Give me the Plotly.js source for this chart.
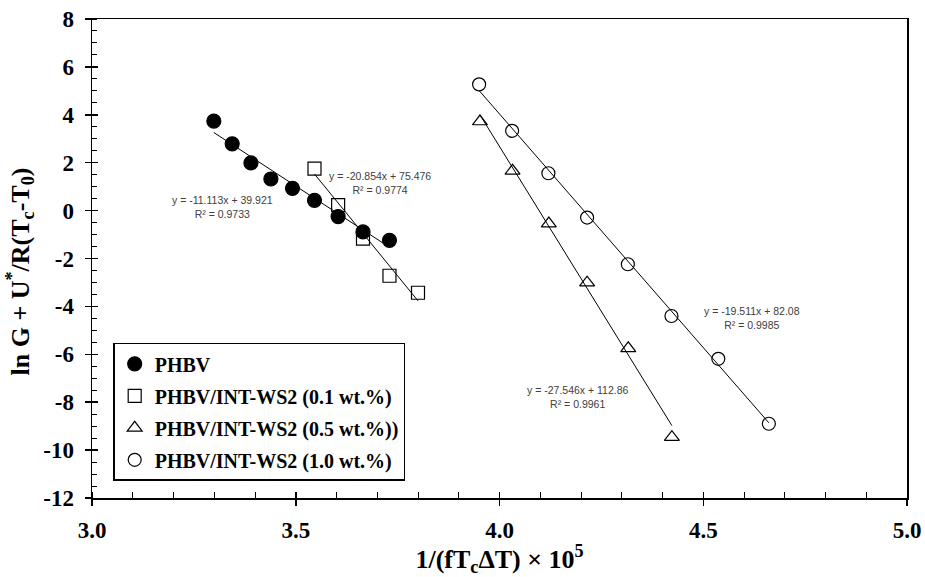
<!DOCTYPE html>
<html>
<head>
<meta charset="utf-8">
<script src="https://cdn.plot.ly/plotly-3.0.1.min.js"></script>
<style>
  html, body { margin: 0; padding: 0; background: #ffffff; }
  #chart { width: 925px; height: 577px; }
</style>
</head>
<body>
<div id="chart"></div>
<script>
// ---- data ----
const seriesNames = ['PHBV', 'PHBV/INT-WS2 (0.1 wt.%)', 'PHBV/INT-WS2 (0.5 wt.%))', 'PHBV/INT-WS2 (1.0 wt.%)'];

const phbvX = [3.299, 3.344, 3.390, 3.439, 3.492, 3.546, 3.604, 3.665, 3.730];
const phbvY = [3.74, 2.79, 1.99, 1.32, 0.93, 0.43, -0.25, -0.89, -1.24];

const ws01X = [3.546, 3.604, 3.665, 3.730, 3.800];
const ws01Y = [1.75, 0.23, -1.17, -2.72, -3.43];

const ws05X = [3.952, 4.032, 4.121, 4.215, 4.316, 4.423];
const ws05Y = [3.72, 1.66, -0.54, -3.01, -5.75, -9.46];

const ws10X = [3.950, 4.031, 4.120, 4.215, 4.315, 4.422, 4.537, 4.661];
const ws10Y = [5.27, 3.33, 1.56, -0.29, -2.24, -4.40, -6.19, -8.90];

// linear trendline coefficients as printed on the chart
const slopes = [-11.113, -20.854, -27.546, -19.511];
const intercepts = [39.921, 75.476, 112.86, 82.08];
const r2Values = ['0.9733', '0.9774', '0.9961', '0.9985'];
const eqLabels = ['y = -11.113x + 39.921', 'y = -20.854x + 75.476', 'y = -27.546x + 112.86', 'y = -19.511x + 82.08'];

// axis ticks
const xTickVals = [3.0, 3.5, 4.0, 4.5, 5.0];
const xTickText = ['3.0', '3.5', '4.0', '4.5', '5.0'];
const yTickVals = [-12, -10, -8, -6, -4, -2, 0, 2, 4, 6, 8];
const yTickText = ['-12', '-10', '-8', '-6', '-4', '-2', '0', '2', '4', '6', '8'];

// ---- build traces ----
const xs = [phbvX, ws01X, ws05X, ws10X];
const ys = [phbvY, ws01Y, ws05Y, ws10Y];
const symbols = ['circle', 'square-open', 'triangle-up-open', 'circle-open'];
const sizes = [14, 13, 13, 13];
const serif = '"Liberation Serif", "Times New Roman", serif';
const sans = '"Liberation Sans", Arial, sans-serif';
const bold = s => '<b>' + s + '</b>';

const traces = [];
// trendlines first (drawn under markers)
for (let i = 0; i < 4; i++) {
  const x0 = Math.min(...xs[i]);
  const x1 = Math.max(...xs[i]);
  traces.push({
    x: [x0, x1],
    y: [slopes[i] * x0 + intercepts[i], slopes[i] * x1 + intercepts[i]],
    mode: 'lines',
    line: { color: '#000000', width: 1 },
    showlegend: false,
    hoverinfo: 'skip'
  });
}
for (let i = 0; i < 4; i++) {
  traces.push({
    x: xs[i],
    y: ys[i],
    name: bold(seriesNames[i]),
    legendgroup: 'g' + i,
    mode: 'markers',
    marker: {
      symbol: symbols[i],
      size: sizes[i],
      color: '#000000',
      line: { color: '#000000', width: 1.2 }
    }
  });
}
// invisible trace for the overlay axes (inner half of the crossing major ticks)
traces.push({ x: [null], y: [null], xaxis: 'x2', yaxis: 'y2', showlegend: false, hoverinfo: 'skip', mode: 'markers' });

// trendline labels
const annPos = [[3.321, 0.15], [3.707, 1.17], [4.193, -7.78], [4.620, -4.48]];
const annotations = annPos.map((p, i) => ({
  x: p[0], y: p[1], xref: 'x', yref: 'y',
  text: eqLabels[i] + '<br>R² = ' + r2Values[i],
  showarrow: false,
  align: 'center',
  font: { family: sans, size: 10.5, color: '#404040' }
}));

const layout = {
  width: 925,
  height: 577,
  margin: { l: 92, r: 18, t: 19, b: 79 },
  paper_bgcolor: '#ffffff',
  plot_bgcolor: '#ffffff',
  showlegend: true,
  legend: {
    x: 0.026, y: 0.324, xanchor: 'left', yanchor: 'top',
    bgcolor: '#ffffff',
    bordercolor: '#000000',
    borderwidth: 1.5,
    traceorder: 'grouped',
    tracegroupgap: 3,
    itemwidth: 30,
    font: { family: serif, size: 20, color: '#000000' }
  },
  xaxis: {
    range: [3, 5],
    tickmode: 'array', tickvals: xTickVals, ticktext: xTickText.map(bold),
    ticks: 'outside', ticklen: 6, tickwidth: 1.5, tickcolor: '#000000',
    ticklabelstandoff: 5,
    showline: true, linewidth: 1.5, linecolor: '#000000', mirror: true,
    showgrid: false, zeroline: false,
    minor: { dtick: 0.1, ticks: 'inside', ticklen: 6, tickwidth: 1, tickcolor: '#000000', showgrid: false },
    tickfont: { family: serif, size: 23, color: '#000000' },
    title: {
      text: bold('1/(fT<sub>c</sub>ΔT) × 10<sup>5</sup>'),
      font: { family: serif, size: 26, color: '#000000' },
      standoff: 6
    }
  },
  yaxis: {
    range: [-12, 8],
    tickmode: 'array', tickvals: yTickVals, ticktext: yTickText.map(bold),
    ticks: 'outside', ticklen: 6, tickwidth: 1.5, tickcolor: '#000000',
    ticklabelstandoff: 6,
    showline: true, linewidth: 1.5, linecolor: '#000000', mirror: true,
    showgrid: false, zeroline: false,
    minor: { dtick: 0.5, ticks: 'inside', ticklen: 5, tickwidth: 1, tickcolor: '#000000', showgrid: false },
    tickfont: { family: serif, size: 23, color: '#000000' },
    title: {
      text: bold('ln G + U<sup>*</sup>/R(T<sub>c</sub>-T<sub>0</sub>)\u00a0\u00a0\u00a0\u00a0'),
      font: { family: serif, size: 26, color: '#000000' },
      standoff: 6
    }
  },
  xaxis2: {
    overlaying: 'x', anchor: 'y2', side: 'bottom', range: [3, 5],
    tickmode: 'array', tickvals: xTickVals,
    ticks: 'inside', ticklen: 6, tickwidth: 1.5, tickcolor: '#000000',
    showticklabels: false, showline: false, showgrid: false, zeroline: false
  },
  yaxis2: {
    overlaying: 'y', anchor: 'x2', side: 'left', range: [-12, 8],
    tickmode: 'array', tickvals: yTickVals,
    ticks: 'inside', ticklen: 6, tickwidth: 1.5, tickcolor: '#000000',
    showticklabels: false, showline: false, showgrid: false, zeroline: false
  },
  annotations: annotations
};

Plotly.newPlot('chart', traces, layout, { displayModeBar: false, staticPlot: true });
</script>
</body>
</html>
